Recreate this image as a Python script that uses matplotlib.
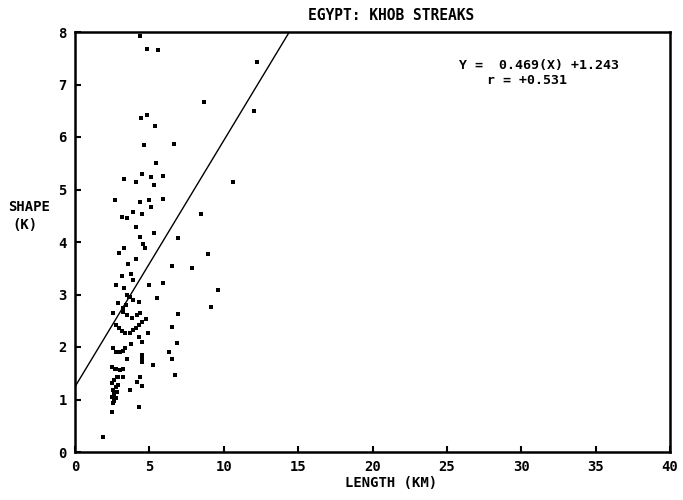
import matplotlib
matplotlib.use("Agg")
import matplotlib.pyplot as plt
import numpy as np

title = "EGYPT: KHOB STREAKS"
xlabel = "LENGTH (KM)"
ylabel_lines = ["SHAPE", "(K)"]
slope = 0.469
intercept = 1.243
r_value = 0.531
xticks = [0, 5, 10, 15, 20, 25, 30, 35, 40]
yticks = [0, 1, 2, 3, 4, 5, 6, 7, 8]

length_km = [
    4.37, 4.82, 5.6, 12.26, 8.67, 12.03, 4.44, 4.84, 5.4, 4.62, 6.68, 5.42, 4.48, 5.09, 5.92,
    3.32, 4.08, 5.29, 10.64, 2.71, 4.35, 4.97, 5.92, 5.11, 3.92, 4.53, 8.49, 3.14, 3.47, 4.12,
    5.31, 4.37, 6.9, 4.55, 4.71, 3.32, 2.98, 8.92, 4.1, 3.58, 6.5, 7.89, 3.14, 3.74, 3.92,
    2.73, 3.32, 5.92, 5.0, 9.59, 9.14, 5.49, 2.91, 4.32, 3.65, 2.53, 3.25, 6.9, 2.76, 6.5,
    4.93, 4.31, 4.48, 3.76, 6.88, 6.34, 3.47, 4.48, 6.5, 5.22, 2.69, 3.25, 4.37, 6.72, 4.15,
    4.48, 3.7, 4.32, 2.47, 1.9,
    3.7, 3.9, 4.1, 4.3, 4.5, 4.77,
    2.76, 2.95, 3.15, 3.36,
    3.25, 3.5, 3.81,
    4.15, 4.37,
    3.52, 3.7, 3.88, 3.25, 3.45,
    2.53, 2.75, 3.0, 3.2, 3.36,
    2.47, 2.63, 2.8, 2.58, 2.75, 2.91, 2.47, 2.63, 2.8, 2.53, 2.65, 2.76,
    2.47, 2.75, 3.03, 2.91, 3.25, 4.48, 4.48,
]
shape_k = [
    7.93, 7.68, 7.66, 7.43, 6.67, 6.5, 6.36, 6.41, 6.21, 5.85, 5.87, 5.51, 5.3, 5.24, 5.26,
    5.2, 5.14, 5.09, 5.14, 4.8, 4.77, 4.8, 4.82, 4.66, 4.58, 4.53, 4.53, 4.48, 4.46, 4.29,
    4.17, 4.1, 4.07, 3.97, 3.88, 3.88, 3.8, 3.78, 3.67, 3.58, 3.55, 3.5, 3.35, 3.39, 3.28,
    3.18, 3.13, 3.21, 3.19, 3.09, 2.77, 2.93, 2.84, 2.86, 2.96, 2.64, 2.66, 2.62, 2.42, 2.39,
    2.26, 2.2, 2.1, 2.05, 2.08, 1.91, 1.77, 1.78, 1.77, 1.66, 1.59, 1.59, 1.43, 1.47, 1.33,
    1.26, 1.18, 0.85, 0.77, 0.29,
    2.27, 2.32, 2.37, 2.42, 2.47, 2.53,
    2.42, 2.37, 2.31, 2.26,
    2.66, 2.61, 2.55,
    2.61, 2.64,
    2.99, 2.95, 2.9, 2.74, 2.8,
    1.98, 1.91, 1.9, 1.92, 1.98,
    1.31, 1.37, 1.43, 1.18, 1.23, 1.28, 1.05, 1.1, 1.15, 0.93, 0.97, 1.02,
    1.62, 1.59, 1.56, 1.42, 1.42, 1.85, 1.72,
]

font = {"family": "DejaVu Sans Mono", "weight": "bold"}

fig = plt.figure(figsize=(6.83, 5.0), dpi=100)
ax = fig.add_axes([0.1098, 0.096, 0.8712, 0.840])

ax.scatter(length_km, shape_k, marker="s", s=5, color="black", linewidths=0, zorder=3)

xl = np.array([0, 40])
ax.plot(xl, slope * xl + intercept, color="black", lw=1.0, zorder=2)

ax.set_xlim(0, 40)
ax.set_ylim(0, 8)
ax.set_xticks(xticks)
ax.set_yticks(yticks)
ax.set_xticklabels([str(t) for t in xticks], fontdict=font, fontsize=10)
ax.set_yticklabels([str(t) for t in yticks], fontdict=font, fontsize=10)
ax.tick_params(direction="in", length=4, width=1.5, pad=6)
for s in ax.spines.values():
    s.set_linewidth(1.8)

fig.text(0.573, 0.968, title, ha="center", va="center", fontsize=10.5, **font)
fig.text(0.573, 0.034, xlabel, ha="center", va="center", fontsize=10, **font)
fig.text(0.042, 0.586, ylabel_lines[0], ha="center", va="center", fontsize=10, **font)
fig.text(0.036, 0.550, ylabel_lines[1], ha="center", va="center", fontsize=10, **font)
fig.text(0.789, 0.868, "Y =  %.3f(X) +%.3f" % (slope, intercept), ha="center", va="center",
         fontsize=9.5, **font)
fig.text(0.772, 0.839, "r = +%.3f" % r_value, ha="center", va="center", fontsize=9.5, **font)

fig.savefig("out.png", dpi=100)
